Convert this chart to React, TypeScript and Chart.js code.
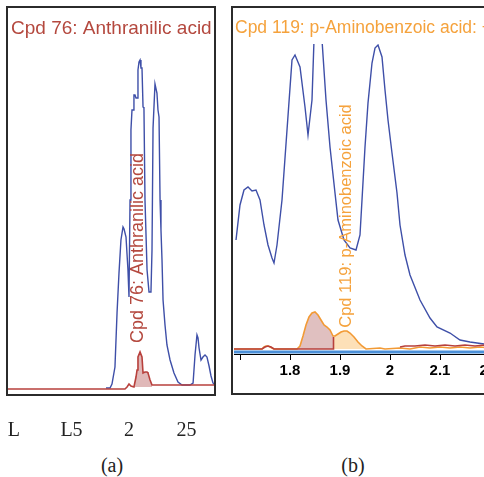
import { useEffect, useRef } from "react";
import { Chart, registerables } from "chart.js";

Chart.register(...registerables);

// ---------------- Panel (a): Cpd 76 ----------------
const A_TITLE = "Cpd 76: Anthranilic acid";
const A_TICKS = [1, 1.5, 2, 2.5];
const A_TICK_LABELS = ["L", "L5", "2", "25"];
// total ion trace (blue)
const A_TIC_X = [1.8, 1.835, 1.852, 1.878, 1.896, 1.913, 1.93, 1.948, 1.957, 1.974, 1.991, 2.0, 2.009, 2.017, 2.026, 2.035, 2.043, 2.052, 2.061, 2.07, 2.078, 2.087, 2.096, 2.104, 2.113, 2.122, 2.13, 2.139, 2.157, 2.174, 2.191, 2.2, 2.209, 2.226, 2.243, 2.252, 2.261, 2.27, 2.278, 2.287, 2.296, 2.313, 2.33, 2.357, 2.391, 2.426, 2.461, 2.53, 2.557, 2.574, 2.591, 2.6, 2.609, 2.626, 2.643, 2.661, 2.678, 2.696, 2.713, 2.73, 2.757];
const A_TIC_Y = [1, 1, 5, 22, 76, 116, 149, 162, 160, 152, 119, 92, 189, 259, 279, 279, 294, 294, 291, 291, 319, 327, 329, 321, 321, 282, 281, 189, 119, 97, 97, 139, 261, 305, 296, 279, 272, 189, 159, 129, 89, 64, 44, 29, 16, 7, 4, 4, 6, 34, 54, 51, 41, 29, 32, 34, 32, 23, 13, 6, 3];
// extracted compound trace (red)
const A_EIC_X = [0.94, 1.965, 1.983, 2.0, 2.017, 2.043, 2.061, 2.07, 2.078, 2.096, 2.113, 2.122, 2.139, 2.157, 2.165, 2.183, 2.2, 2.226, 2.76];
const A_EIC_Y = [0, 0, 2, 5, 3, 2, 12, 19, 32, 37, 32, 16, 17, 17, 16, 9, 4, 4, 4];
const A_PEAK = [2.043, 2.2];

// ---------------- Panel (b): Cpd 119 ----------------
const B_TITLE = "Cpd 119: p-Aminobenzoic acid: +";
const B_LABEL = "Cpd 119: p-Aminobenzoic acid";
const B_TICKS = [1.7, 1.8, 1.9, 2.0, 2.1, 2.2];
const B_TICK_LABELS = ["", "1.8", "1.9", "2", "2.1", "2.2"];
const B_TIC_X = [1.692, 1.7, 1.708, 1.716, 1.724, 1.732, 1.74, 1.748, 1.756, 1.764, 1.768, 1.774, 1.784, 1.79, 1.796, 1.804, 1.81, 1.82, 1.83, 1.836, 1.844, 1.848, 1.856, 1.864, 1.872, 1.88, 1.89, 1.896, 1.908, 1.92, 1.932, 1.94, 1.944, 1.95, 1.956, 1.964, 1.97, 1.976, 1.984, 1.99, 1.996, 2.004, 2.014, 2.02, 2.03, 2.04, 2.06, 2.08, 2.094, 2.12, 2.14, 2.16, 2.188, 2.26];
const B_TIC_Y = [112, 147, 162, 165, 161, 162, 152, 127, 107, 94, 89, 107, 152, 194, 236, 292, 297, 285, 245, 217, 252, 312, 332, 312, 252, 205, 159, 132, 112, 104, 102, 117, 152, 205, 249, 289, 304, 307, 295, 262, 232, 199, 159, 127, 97, 77, 52, 34, 25, 19, 12, 10, 8, 6];
const B_EIC_X = [1.688, 1.744, 1.748, 1.752, 1.756, 1.76, 1.764, 1.768, 1.814, 1.82, 1.826, 1.832, 1.838, 1.844, 1.85, 1.856, 1.862, 1.868, 1.874, 1.88, 1.886, 1.89, 1.896, 1.902, 1.908, 1.914, 1.92, 1.928, 1.936, 1.944, 1.952, 1.98, 1.99, 2.02, 2.04, 2.06, 2.08, 2.1, 2.12, 2.14, 2.16, 2.18, 2.2, 2.272];
const B_EIC_Y = [3, 3, 5, 6, 6, 5, 4, 3, 3, 6, 16, 27, 35, 39, 40, 37, 32, 27, 25, 22, 16, 16, 18, 20, 21, 21, 19, 15, 10, 6, 3, 4, 3, 4, 3, 5, 4, 5, 4, 5, 4, 5, 4, 4];
const B_EIC2_X = [1.688, 1.744, 1.75, 1.756, 1.762, 1.768, 1.814, 1.886, 1.887, 1.95, 2.02, 2.03, 2.05, 2.07, 2.09, 2.11, 2.13, 2.15, 2.17, 2.19, 2.272];
const B_EIC2_Y = [3, 3, 5, 6, 5, 3, 3, 3, 15, null, 5, 6, 6, 7, 6, 7, 6, 7, 6, 7, 6];
const B_BASE_X = [1.68, 2.28];
const B_BASE_Y = [0, 0];
const B_PEAK1 = [1.814, 1.886];
const B_PEAK2 = [1.886, 1.952];

const pts = (xs: number[], ys: (number | null)[]) => xs.map((x, i) => ({ x, y: ys[i] }));
const inRange = (xs: number[], ys: number[], r: number[]) =>
  pts(xs, ys).filter((p) => p.x >= r[0] - 1e-9 && p.x <= r[1] + 1e-9);

const SANS = "'Liberation Sans', Arial, sans-serif";
const SERIF = "'Liberation Serif', 'Times New Roman', serif";

function panelPlugin(cfg: {
  id: string;
  title: string;
  titleColor: string;
  titleSize: number;
  titleX: number;
  titleY: number;
  label: string;
  labelColor: string;
  labelSize: number;
  labelX: number;
  labelY: number;
  box: (ca: any) => [number, number, number, number];
}) {
  return {
    id: cfg.id,
    afterDatasetsDraw(chart: any) {
      const ctx = chart.ctx;
      ctx.save();
      ctx.translate(cfg.labelX, cfg.labelY);
      ctx.rotate(-Math.PI / 2);
      ctx.font = `${cfg.labelSize}px ${SANS}`;
      ctx.fillStyle = cfg.labelColor;
      ctx.textAlign = "center";
      ctx.textBaseline = "middle";
      ctx.fillText(cfg.label, 0, 0);
      ctx.restore();
    },
    afterDraw(chart: any) {
      const ctx = chart.ctx;
      ctx.save();
      ctx.font = `${cfg.titleSize}px ${SANS}`;
      ctx.fillStyle = cfg.titleColor;
      ctx.textAlign = "left";
      ctx.textBaseline = "middle";
      ctx.fillText(cfg.title, cfg.titleX, cfg.titleY);
      const [x, y, w, h] = cfg.box(chart.chartArea);
      ctx.strokeStyle = "#2b2b2b";
      ctx.lineWidth = 2;
      ctx.strokeRect(x, y, w, h);
      ctx.restore();
    },
  };
}

function PanelA() {
  const ref = useRef<HTMLCanvasElement | null>(null);
  useEffect(() => {
    if (!ref.current) return;
    const chart = new Chart(ref.current, {
      type: "line",
      data: {
        datasets: [
          { data: pts(A_EIC_X, A_EIC_Y), borderColor: "#b8403c", borderWidth: 1.6, pointRadius: 0, fill: false },
          { data: pts(A_TIC_X, A_TIC_Y), borderColor: "#3e4fa8", borderWidth: 1.4, pointRadius: 0, fill: false },
          {
            data: inRange(A_EIC_X, A_EIC_Y, A_PEAK),
            borderWidth: 0,
            pointRadius: 0,
            backgroundColor: "rgba(214,160,160,0.75)",
            fill: { value: 2 },
          },
        ] as any,
      },
      plugins: [
        panelPlugin({
          id: "pa",
          title: A_TITLE,
          titleColor: "#b4483e",
          titleSize: 19,
          titleX: 11,
          titleY: 29,
          label: A_TITLE,
          labelColor: "#b4483e",
          labelSize: 18,
          labelX: 138,
          labelY: 248,
          box: (ca) => [ca.left - 1, ca.top - 1, ca.right - ca.left + 2, ca.bottom - ca.top + 2],
        }),
      ],
      options: {
        responsive: false,
        animation: false,
        events: [],
        layout: { autoPadding: false, padding: { left: 8, top: 8, right: 10, bottom: 0 } },
        plugins: { legend: { display: false }, tooltip: { enabled: false } },
        elements: { line: { tension: 0 }, point: { radius: 0 } },
        scales: {
          x: {
            type: "linear",
            min: 0.948,
            max: 2.739,
            afterFit: (s: any) => {
              s.height = 51;
              s.paddingLeft = 0;
              s.paddingRight = 0;
            },
            afterBuildTicks: (s: any) => {
              s.ticks = A_TICKS.map((v) => ({ value: v }));
            },
            grid: { display: false, drawTicks: false },
            border: { display: false },
            ticks: {
              autoSkip: false,
              maxRotation: 0,
              padding: 25,
              color: "#222",
              font: { family: SERIF, size: 20 },
              callback: (_v: any, i: number) => A_TICK_LABELS[i],
            },
          },
          y: { display: false, min: -5, max: 381 },
        },
      } as any,
    });
    return () => chart.destroy();
  }, []);
  return (
    <canvas
      ref={ref}
      width={224}
      height={445}
      style={{ position: "absolute", left: 0, top: 0, width: 224, height: 445 }}
    />
  );
}

function PanelB() {
  const ref = useRef<HTMLCanvasElement | null>(null);
  useEffect(() => {
    if (!ref.current) return;
    const chart = new Chart(ref.current, {
      type: "line",
      data: {
        datasets: [
          { data: pts(B_EIC2_X, B_EIC2_Y), borderColor: "#b8403c", borderWidth: 1.6, pointRadius: 0, fill: false, spanGaps: false },
          { data: pts(B_EIC_X, B_EIC_Y), borderColor: "#f29a35", borderWidth: 1.6, pointRadius: 0, fill: false },
          { data: pts(B_TIC_X, B_TIC_Y), borderColor: "#3e4fa8", borderWidth: 1.4, pointRadius: 0, fill: false },
          { data: pts(B_BASE_X, B_BASE_Y), borderColor: "#4a8fd8", borderWidth: 3, pointRadius: 0, fill: false },
          {
            data: inRange(B_EIC_X, B_EIC_Y, B_PEAK2),
            borderWidth: 0,
            pointRadius: 0,
            backgroundColor: "rgba(253,222,180,0.95)",
            fill: { value: 3 },
          },
          {
            data: inRange(B_EIC_X, B_EIC_Y, B_PEAK1),
            borderWidth: 0,
            pointRadius: 0,
            backgroundColor: "rgba(216,176,176,0.8)",
            fill: { value: 3 },
          },
        ] as any,
      },
      plugins: [
        panelPlugin({
          id: "pb",
          title: B_TITLE,
          titleColor: "#f5a23c",
          titleSize: 17.5,
          titleX: 9,
          titleY: 28,
          label: B_LABEL,
          labelColor: "#f5a23c",
          labelSize: 16.5,
          labelX: 120,
          labelY: 216,
          box: (ca) => [ca.left - 2, 7, 400, 387],
        }),
      ],
      options: {
        responsive: false,
        animation: false,
        events: [],
        layout: { autoPadding: false, padding: { left: 8, top: 44, right: 0, bottom: 0 } },
        plugins: { legend: { display: false }, tooltip: { enabled: false } },
        elements: { line: { tension: 0 }, point: { radius: 0 } },
        scales: {
          x: {
            type: "linear",
            min: 1.688,
            max: 2.272,
            afterFit: (s: any) => {
              s.height = 46;
              s.paddingLeft = 0;
              s.paddingRight = 0;
            },
            afterBuildTicks: (s: any) => {
              s.ticks = B_TICKS.map((v) => ({ value: v }));
            },
            grid: { drawOnChartArea: false, drawTicks: true, tickLength: 6, color: "#000" },
            border: { display: true, color: "#000", width: 1 },
            ticks: {
              autoSkip: false,
              maxRotation: 0,
              padding: 2,
              color: "#000",
              font: { family: SANS, size: 15, weight: "bold" },
              callback: (_v: any, i: number) => B_TICK_LABELS[i],
            },
          },
          y: { display: false, min: -2, max: 308 },
        },
      } as any,
    });
    return () => chart.destroy();
  }, []);
  return (
    <canvas
      ref={ref}
      width={300}
      height={400}
      style={{ position: "absolute", left: 226, top: 0, width: 300, height: 400 }}
    />
  );
}

const captionStyle = (left: number): React.CSSProperties => ({
  position: "absolute",
  left,
  top: 453,
  width: 40,
  textAlign: "center",
  fontFamily: SERIF,
  fontSize: 20,
  lineHeight: "24px",
  color: "#222",
});

export default function App() {
  return (
    <div
      style={{
        position: "fixed",
        left: 0,
        top: 0,
        width: 484,
        height: 477,
        overflow: "hidden",
        background: "#fff",
      }}
    >
      <PanelA />
      <PanelB />
      <div style={captionStyle(92)}>(a)</div>
      <div style={captionStyle(333)}>(b)</div>
    </div>
  );
}
